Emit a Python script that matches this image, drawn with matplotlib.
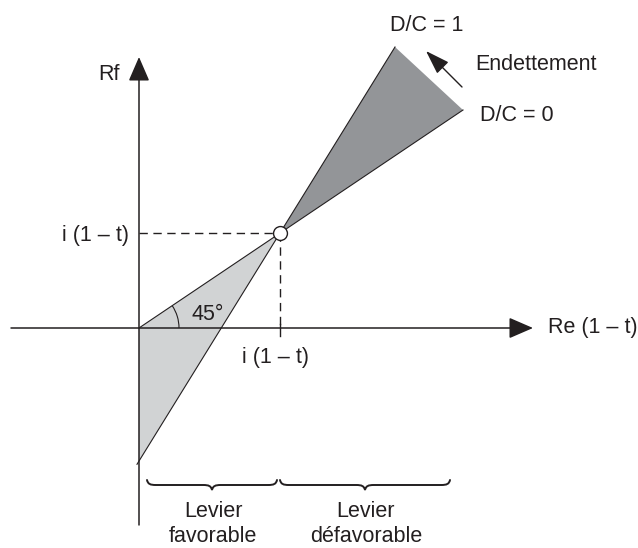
"""
Effet de levier : Rf en fonction de Re (1 - t), selon l'endettement D/C.
Schéma redessiné en coordonnées pixel (y vers le bas).
"""

import math
import matplotlib.pyplot as plt
from matplotlib.patches import Arc, PathPatch, Polygon
from matplotlib.path import Path

plt.rcParams["font.family"] = ["Liberation Sans", "DejaVu Sans"]

# ── Géométrie du schéma (pixels, origine en haut à gauche) ───────────────────
origin = (139, 328)          # croisement des axes
pivot = (280, 233)           # point i(1-t), i(1-t)
dc0_end = (463, 110)         # extrémité droite D/C = 0
dc1_end = (395, 47)          # extrémité haute D/C = 1
x_axis = (11, 533)
y_axis = (525, 57)
brace_left = (147, 277)
brace_right = (280, 450)
brace_y = 480
endet_arrow = ((462, 87), (426, 51))

labels_brace = ["Levier\nfavorable", "Levier\ndéfavorable"]
label_i = "i (1 – t)"

INK = "#231f20"
DARK = "#939598"
LIGHT = "#d1d3d4"
FS = 15.5

# droite D/C = 1 prolongée jusqu'à l'axe vertical
slope1 = (dc1_end[1] - pivot[1]) / (dc1_end[0] - pivot[0])
y_dc1_axis = pivot[1] + slope1 * (origin[0] - pivot[0])
dc1_low = (origin[0] - 2, pivot[1] + slope1 * (origin[0] - 2 - pivot[0]))

fig = plt.figure(figsize=(6.38, 5.48), dpi=100)
ax = fig.add_axes([0, 0, 1, 1])
ax.set_xlim(0, 638)
ax.set_ylim(548, 0)
ax.set_aspect("equal")
ax.axis("off")

# ── Zones grisées ───────────────────────────────────────────────────────────
ax.add_patch(Polygon([origin, pivot, (origin[0], y_dc1_axis)],
                     closed=True, facecolor=LIGHT, edgecolor="none", zorder=1))
ax.add_patch(Polygon([pivot, dc1_end, dc0_end],
                     closed=True, facecolor=DARK, edgecolor="none", zorder=1))

# ── Droites D/C = 0 et D/C = 1 ──────────────────────────────────────────────
ax.plot([origin[0], dc0_end[0]], [origin[1], dc0_end[1]], color=INK, lw=0.8, zorder=3)
ax.plot([dc1_low[0], dc1_end[0]], [dc1_low[1], dc1_end[1]], color=INK, lw=0.8, zorder=3)

# ── Axes avec flèches ───────────────────────────────────────────────────────
head = "-|>,head_length=1.5,head_width=0.65"
ax.annotate("", xy=(x_axis[1], origin[1]), xytext=(x_axis[0], origin[1]),
            arrowprops=dict(arrowstyle=head, mutation_scale=10, lw=1.1,
                            color=INK, shrinkA=0, shrinkB=0), zorder=4)
ax.annotate("", xy=(origin[0], y_axis[1]), xytext=(origin[0], y_axis[0]),
            arrowprops=dict(arrowstyle=head, mutation_scale=10, lw=1.1,
                            color=INK, shrinkA=0, shrinkB=0), zorder=4)

# ── Pointillés vers i(1-t) ──────────────────────────────────────────────────
ax.plot([origin[0], pivot[0]], [pivot[1], pivot[1]], color=INK, lw=1,
        dashes=(6, 4), zorder=2)
ax.plot([pivot[0], pivot[0]], [pivot[1], origin[1]], color=INK, lw=1,
        dashes=(6, 4), zorder=2)
ax.plot([pivot[0], pivot[0]], [origin[1] - 4, origin[1] + 8], color=INK, lw=1, zorder=2)

ax.plot(*pivot, marker="o", markersize=10, markerfacecolor="white",
        markeredgecolor=INK, markeredgewidth=1, zorder=5)

# ── Angle 45° ───────────────────────────────────────────────────────────────
theta = math.degrees(math.atan2(pivot[1] - origin[1], pivot[0] - origin[0]))
ax.add_patch(Arc(origin, 80, 80, theta1=theta, theta2=0, color=INK, lw=0.8, zorder=3))
ax.text(192, 320, "45°", fontsize=FS, color=INK, va="baseline", ha="left")

# ── Accolades ───────────────────────────────────────────────────────────────
def brace(x0, x1, y0, h=10, r=9):
    xm = (x0 + x1) / 2
    ym = y0 + h / 2
    verts = [(x0, y0), (x0 + 1, ym - 1), (x0 + r / 3, ym), (x0 + r, ym),
             (xm - r, ym),
             (xm - r / 3, ym), (xm - 1, ym + 1), (xm, y0 + h),
             (xm + 1, ym + 1), (xm + r / 3, ym), (xm + r, ym),
             (x1 - r, ym),
             (x1 - r / 3, ym), (x1 - 1, ym - 1), (x1, y0)]
    codes = ([Path.MOVETO] + [Path.CURVE4] * 3 + [Path.LINETO] + [Path.CURVE4] * 3
             + [Path.CURVE4] * 3 + [Path.LINETO] + [Path.CURVE4] * 3)
    ax.add_patch(PathPatch(Path(verts, codes), facecolor="none", edgecolor=INK,
                           lw=1.4, capstyle="round"))
    return xm

for (bx0, bx1), lab in zip([brace_left, brace_right], labels_brace):
    xm = brace(bx0, bx1, brace_y)
    l1, l2 = lab.split("\n")
    ax.text(xm + 1, 517, l1, fontsize=FS, color=INK, ha="center", va="baseline")
    ax.text(xm + 1, 542, l2, fontsize=FS, color=INK, ha="center", va="baseline")

# ── Textes ──────────────────────────────────────────────────────────────────
ax.text(120, 80, "Rf", fontsize=FS, color=INK, ha="right", va="baseline")
ax.text(129, 235, label_i, fontsize=FS, color=INK, ha="right", va="center")
ax.text(276, 358, label_i, fontsize=FS, color=INK, ha="center", va="center")
ax.text(548, 328, "Re (1 – t)", fontsize=FS, color=INK, ha="left", va="center")
ax.text(427, 31, "D/C = 1", fontsize=FS, color=INK, ha="center", va="baseline")
ax.text(480, 121, "D/C = 0", fontsize=FS, color=INK, ha="left", va="baseline")
ax.text(475, 70, "Endettement", fontsize=FS, color=INK, ha="left", va="baseline")

ax.annotate("", xy=endet_arrow[1], xytext=endet_arrow[0],
            arrowprops=dict(arrowstyle="-|>,head_length=1.5,head_width=0.5",
                            mutation_scale=10, lw=1, color=INK,
                            shrinkA=0, shrinkB=0))

fig.savefig("out.png", dpi=100)
